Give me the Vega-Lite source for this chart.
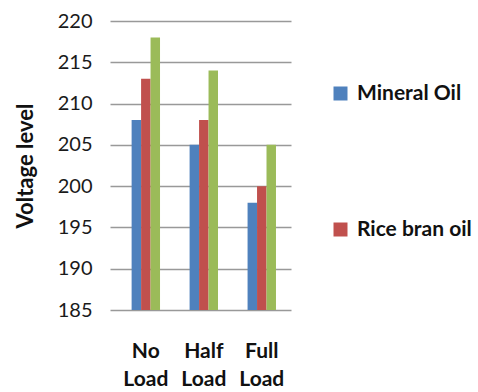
{
  "$schema": "https://vega.github.io/schema/vega-lite/v6.json",
  "autosize": "none",
  "width": 181,
  "height": 289,
  "padding": {"left": 110, "top": 21, "right": 187, "bottom": 82},
  "background": "white",
  "data": {
    "values": [
      {"load": "No Load", "oil": "Mineral Oil", "voltage": 208},
      {"load": "No Load", "oil": "Rice bran oil", "voltage": 213},
      {"load": "No Load", "oil": "Series 3", "voltage": 218},
      {"load": "Half Load", "oil": "Mineral Oil", "voltage": 205},
      {"load": "Half Load", "oil": "Rice bran oil", "voltage": 208},
      {"load": "Half Load", "oil": "Series 3", "voltage": 214},
      {"load": "Full Load", "oil": "Mineral Oil", "voltage": 198},
      {"load": "Full Load", "oil": "Rice bran oil", "voltage": 200},
      {"load": "Full Load", "oil": "Series 3", "voltage": 205}
    ]
  },
  "mark": {"type": "bar", "clip": true},
  "encoding": {
    "x": {
      "field": "load",
      "type": "nominal",
      "sort": null,
      "title": null,
      "scale": {"paddingInner": 0.51, "paddingOuter": 0.316, "align": 0.59},
      "axis": {
        "labelAngle": 0,
        "labelExpr": "split(datum.label, ' ')",
        "labelLineHeight": 28,
        "labelPadding": 30,
        "labelFont": "Lato",
        "labelFontSize": 21,
        "labelFontWeight": "bold",
        "labelColor": "#111",
        "domain": false,
        "ticks": false,
        "grid": false
      }
    },
    "xOffset": {"field": "oil", "type": "nominal", "sort": ["Mineral Oil", "Rice bran oil", "Series 3"]},
    "y": {
      "field": "voltage",
      "type": "quantitative",
      "title": "Voltage level",
      "scale": {"domain": [185, 220], "zero": false, "nice": false},
      "axis": {
        "values": [185, 190, 195, 200, 205, 210, 215, 220],
        "labelFont": "Lato",
        "labelFontSize": 20,
        "labelColor": "#1a1a1a",
        "labelPadding": 18,
        "titleFont": "Lato",
        "titleFontSize": 22,
        "titleFontWeight": "bold",
        "titleColor": "#111",
        "titlePadding": 20,
        "domain": false,
        "ticks": false,
        "grid": true,
        "gridColor": "#999",
        "gridWidth": 1.5
      }
    },
    "color": {
      "field": "oil",
      "type": "nominal",
      "scale": {
        "domain": ["Mineral Oil", "Rice bran oil", "Series 3"],
        "range": ["#4F81BD", "#C0504D", "#9BBB59"]
      },
      "legend": {
        "title": null,
        "values": ["Mineral Oil", "Rice bran oil"],
        "orient": "none",
        "legendX": 220,
        "legendY": 62,
        "padding": 0,
        "symbolType": "square",
        "symbolSize": 196,
        "symbolStrokeWidth": 0,
        "symbolOpacity": 1,
        "labelFont": "Lato",
        "labelFontSize": 21,
        "labelFontWeight": "bold",
        "labelColor": "#111",
        "labelOffset": 6,
        "rowPadding": 114,
        "labelLimit": 200
      }
    }
  },
  "config": {"view": {"stroke": null}}
}
